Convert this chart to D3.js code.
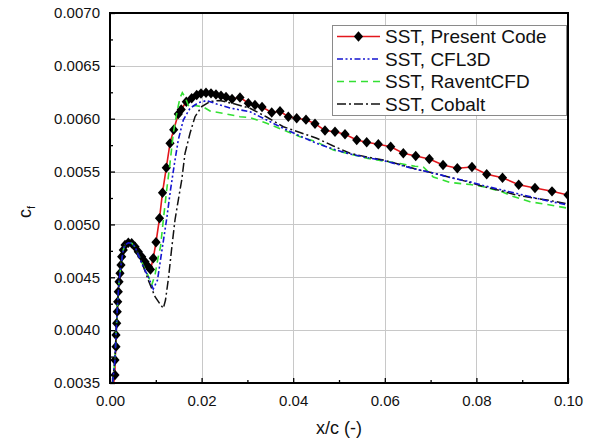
<!DOCTYPE html>
<html><head><meta charset="utf-8">
<script src="https://cdn.jsdelivr.net/npm/d3@7"></script>
<style>body{margin:0;background:#fff;}svg{display:block;font-family:"Liberation Sans",Arial,sans-serif;}</style>
</head><body><svg id="c" width="597" height="441"></svg>
<script>
// ---- data ----
const seriesNames = ["SST, Present Code", "SST, CFL3D", "SST, RaventCFD", "SST, Cobalt"];
const xMajorTicks = [0, 0.02, 0.04, 0.06, 0.08, 0.10];
const yMajorTicks = [0.0035, 0.0040, 0.0045, 0.0050, 0.0055, 0.0060, 0.0065, 0.0070];

const presentX = [0.0006,0.00109,0.00109,0.00131,0.00131,0.00146,0.00159,0.00168,0.00181,0.00197,0.00218,0.0024,0.00255,0.0029,0.00328,0.0040,0.00474,0.00546,0.00618,0.00692,0.00764,0.00836,0.00884,0.00945,0.01004,0.01081,0.01146,0.01229,0.0131,0.01391,0.01491,0.01555,0.01666,0.01784,0.01893,0.01987,0.02096,0.02205,0.02314,0.02424,0.02533,0.02664,0.02838,0.0302,0.03166,0.03319,0.03531,0.03712,0.03893,0.04076,0.04279,0.04476,0.04694,0.04913,0.05131,0.05387,0.05605,0.05858,0.06129,0.06404,0.06675,0.06972,0.07271,0.07583,0.07904,0.08225,0.0857,0.08924,0.09279,0.09651,0.1];
const presentY = [0.00345,0.003576,0.003718,0.003844,0.003954,0.004065,0.004175,0.004269,0.004364,0.004458,0.004538,0.004616,0.004695,0.004758,0.004805,0.004827,0.004822,0.004789,0.004742,0.004695,0.004648,0.004601,0.004574,0.00468,0.004831,0.005058,0.0053,0.005536,0.005767,0.005896,0.006045,0.006087,0.006161,0.006193,0.006224,0.006239,0.006245,0.00624,0.006229,0.006218,0.006205,0.006187,0.006201,0.006146,0.00613,0.006111,0.006059,0.00607,0.006019,0.006004,0.005991,0.005953,0.005889,0.005877,0.005853,0.005799,0.005777,0.005758,0.005735,0.005673,0.005647,0.005619,0.005562,0.005531,0.005543,0.005475,0.005442,0.005376,0.005345,0.005313,0.005278];

const cfl3dX = [0.00055,0.00109,0.00131,0.00168,0.00197,0.0024,0.0029,0.00328,0.0040,0.00474,0.00546,0.00692,0.00836,0.00945,0.01037,0.01124,0.01201,0.01234,0.01321,0.01408,0.01491,0.016,0.01747,0.01928,0.02111,0.0233,0.0262,0.03057,0.03421,0.03784,0.04148,0.04513,0.04876,0.0524,0.05605,0.05967,0.06332,0.06697,0.07059,0.07424,0.07788,0.08151,0.08515,0.0888,0.09242,0.09607,0.1];
const cfl3dY = [0.0035,0.003718,0.003954,0.004269,0.004458,0.004616,0.004758,0.004805,0.004827,0.004822,0.004789,0.004632,0.004503,0.004389,0.004474,0.004727,0.004947,0.005042,0.005326,0.005578,0.005799,0.005988,0.006099,0.006151,0.006172,0.006139,0.006101,0.006066,0.005988,0.005909,0.005836,0.005767,0.005713,0.005666,0.005633,0.005605,0.005562,0.00552,0.005486,0.005444,0.005411,0.005368,0.00533,0.005293,0.005255,0.005217,0.005184];

const raventX = [0.00055,0.00109,0.00131,0.00168,0.00197,0.0024,0.0029,0.00328,0.0040,0.00474,0.00546,0.00692,0.00836,0.0091,0.00983,0.01048,0.01103,0.01164,0.01238,0.0131,0.01382,0.01456,0.01528,0.01579,0.01638,0.01725,0.01856,0.02037,0.02183,0.02474,0.02838,0.03057,0.03421,0.03784,0.04148,0.04513,0.04876,0.0524,0.05605,0.05967,0.06332,0.06659,0.06841,0.07059,0.07424,0.0786,0.08151,0.08515,0.08806,0.0917,0.09607,0.1];
const raventY = [0.0035,0.003718,0.003954,0.004269,0.004458,0.004616,0.004758,0.004805,0.004827,0.004822,0.004789,0.004645,0.004512,0.004427,0.004522,0.004682,0.004789,0.005042,0.005326,0.005578,0.005862,0.006051,0.006196,0.006246,0.006205,0.006111,0.006125,0.006111,0.006073,0.006051,0.006019,0.006011,0.005957,0.005893,0.00583,0.00578,0.005704,0.005666,0.005626,0.0056,0.005576,0.00555,0.005543,0.005449,0.005397,0.005378,0.005357,0.005316,0.005264,0.005215,0.005184,0.005153];

const cobaltX = [0.00055,0.00109,0.00131,0.00168,0.00197,0.0024,0.0029,0.00328,0.0040,0.00474,0.00546,0.00692,0.00836,0.00983,0.01092,0.01164,0.01212,0.01277,0.01343,0.01419,0.01491,0.01566,0.01638,0.01747,0.01856,0.02002,0.02183,0.02402,0.02729,0.03057,0.03421,0.03784,0.04148,0.04513,0.04876,0.0524,0.05605,0.05967,0.06332,0.06697,0.07059,0.07424,0.07788,0.08151,0.08515,0.0888,0.09242,0.09607,0.1];
const cobaltY = [0.0035,0.003718,0.003954,0.004269,0.004458,0.004616,0.004758,0.004805,0.004827,0.004822,0.004789,0.004645,0.004474,0.004316,0.004247,0.004207,0.004285,0.004493,0.004758,0.005042,0.005231,0.00542,0.005673,0.005862,0.006019,0.006114,0.006163,0.006172,0.006139,0.006099,0.006016,0.005924,0.00587,0.005815,0.005742,0.005673,0.005638,0.005609,0.005567,0.005521,0.005486,0.005446,0.005406,0.005359,0.005321,0.005278,0.00525,0.005226,0.005193];

// ---- layout ----
const svg = d3.select("#c");
const L = 110, R = 568, T = 13, B = 383;
const x = d3.scaleLinear().domain([0, 0.10]).range([L, R]);
const y = d3.scaleLinear().domain([0.0035, 0.0070]).range([B, T]);

const zip = (xs, ys) => xs.map((v, i) => [v, ys[i]]);
const line = d3.line().x(d => x(d[0])).y(d => y(d[1]));

svg.append("defs").append("clipPath").attr("id", "clip")
  .append("rect").attr("x", L).attr("y", T).attr("width", R - L).attr("height", B - T);

// grid
const grid = svg.append("g").attr("stroke", "#c8c8c8").attr("stroke-width", 1);
grid.selectAll(".gx").data(xMajorTicks.slice(1, -1)).join("line")
  .attr("x1", d => Math.round(x(d)) + 0.5).attr("x2", d => Math.round(x(d)) + 0.5).attr("y1", T).attr("y2", B);
grid.selectAll(".gy").data(yMajorTicks.slice(1, -1)).join("line")
  .attr("y1", d => Math.round(y(d)) + 0.5).attr("y2", d => Math.round(y(d)) + 0.5).attr("x1", L).attr("x2", R);

// series
const plot = svg.append("g").attr("clip-path", "url(#clip)");
const present = zip(presentX, presentY);
plot.append("path").attr("d", line(present)).attr("fill", "none").attr("stroke", "#e3171c").attr("stroke-width", 1.6);
const diamond = "M0,-5.2L4.6,0L0,5.2L-4.6,0Z";
plot.selectAll(".mk").data(present).join("path").attr("d", diamond)
  .attr("transform", d => `translate(${x(d[0])},${y(d[1])})`).attr("fill", "#000");
plot.append("path").attr("d", line(zip(raventX, raventY))).attr("fill", "none")
  .attr("stroke", "#33e033").attr("stroke-width", 1.6).attr("stroke-dasharray", "7,5");
plot.append("path").attr("d", line(zip(cobaltX, cobaltY))).attr("fill", "none")
  .attr("stroke", "#111").attr("stroke-width", 1.5).attr("stroke-dasharray", "9,3,2,3");
plot.append("path").attr("d", line(zip(cfl3dX, cfl3dY))).attr("fill", "none")
  .attr("stroke", "#1515d0").attr("stroke-width", 1.6).attr("stroke-dasharray", "6,2.5,2,2.5,2,2.5");

// axes
const fontSize = 15;
const xAxis = svg.append("g").attr("transform", `translate(0,${B})`)
  .call(d3.axisBottom(x).tickValues(xMajorTicks).tickFormat(d3.format(".2f")).tickSize(-5).tickPadding(12));
const xMinor = svg.append("g").attr("transform", `translate(0,${B})`)
  .call(d3.axisBottom(x).tickValues([0.01, 0.03, 0.05, 0.07, 0.09]).tickFormat("").tickSize(-3));
const yAxis = svg.append("g").attr("transform", `translate(${L},0)`)
  .call(d3.axisLeft(y).tickValues(yMajorTicks).tickFormat(d3.format(".4f")).tickSize(-5).tickPadding(10));
const yMinor = svg.append("g").attr("transform", `translate(${L},0)`)
  .call(d3.axisLeft(y).tickValues([0.00375, 0.00425, 0.00475, 0.00525, 0.00575, 0.00625, 0.00675]).tickFormat("").tickSize(-3));
[xAxis, xMinor, yAxis, yMinor].forEach(g => {
  g.select(".domain").remove();
  g.selectAll("line").attr("stroke", "#000").attr("stroke-width", 1.3);
  g.selectAll("text").attr("font-size", fontSize).attr("fill", "#111")
   .attr("font-family", "'Liberation Sans', Arial, sans-serif");
});

// frame
svg.append("rect").attr("x", L).attr("y", T).attr("width", R - L).attr("height", B - T)
  .attr("fill", "none").attr("stroke", "#000").attr("stroke-width", 2);

// axis titles
svg.append("text").attr("x", (L + R) / 2).attr("y", 434).attr("text-anchor", "middle")
  .attr("font-size", 18).attr("fill", "#111").text("x/c (-)");
const yl = svg.append("text").attr("transform", "translate(31,212) rotate(-90)")
  .attr("text-anchor", "middle").attr("font-size", 18).attr("fill", "#111");
yl.append("tspan").text("c");
yl.append("tspan").attr("font-size", 11).attr("dy", 4).text("f");

// legend
const lg = svg.append("g");
lg.append("rect").attr("x", 332.5).attr("y", 25.5).attr("width", 234).attr("height", 90)
  .attr("fill", "#fff").attr("stroke", "#8a8a8a").attr("stroke-width", 1);
const rowY = [36.5, 59, 81.5, 104];
const styles = [
  {stroke: "#e3171c", dash: null, w: 1.6},
  {stroke: "#1515d0", dash: "6,2.5,2,2.5,2,2.5", w: 1.6},
  {stroke: "#33e033", dash: "7,5", w: 1.6},
  {stroke: "#111", dash: "9,3,2,3", w: 1.5}
];
seriesNames.forEach((name, i) => {
  lg.append("line").attr("x1", 337).attr("x2", 380).attr("y1", rowY[i]).attr("y2", rowY[i])
    .attr("stroke", styles[i].stroke).attr("stroke-width", styles[i].w)
    .attr("stroke-dasharray", styles[i].dash);
  if (i === 0) lg.append("path").attr("d", diamond).attr("transform", `translate(358.5,${rowY[i]})`).attr("fill", "#000");
  lg.append("text").attr("x", 385).attr("y", rowY[i] + 6.8).attr("font-size", 19).attr("fill", "#111").text(name);
});
</script></body></html>
